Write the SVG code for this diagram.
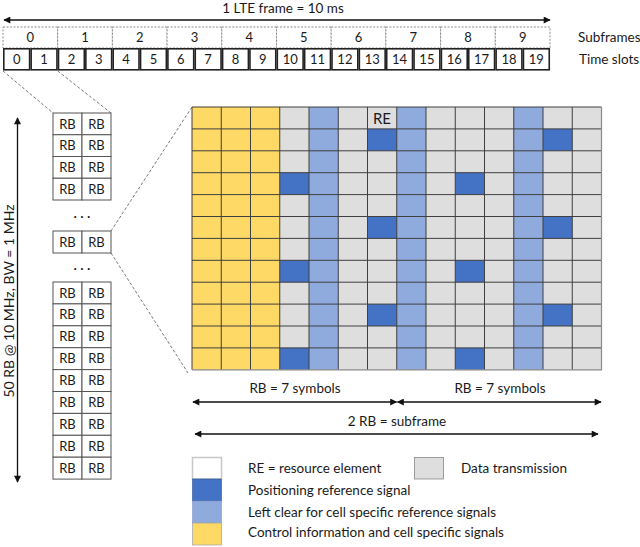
<svg xmlns="http://www.w3.org/2000/svg" width="640" height="547" viewBox="0 0 640 547">
<style>
text{font-family:Lato,"Liberation Sans",sans-serif;fill:#1a1a1a;}
.n{font-size:13px;text-anchor:middle;}
.lbl{font-size:13.5px;}
.c{text-anchor:middle;}
.sf{fill:#fff;stroke:#8a8a8a;stroke-width:1;stroke-dasharray:2 1.5;}
.sl{fill:#fff;stroke:#222;stroke-width:1.6;}
.rb{fill:#fff;stroke:#555;stroke-width:1;}
.dash{fill:none;stroke:#555;stroke-width:0.8;stroke-dasharray:3 2;}
.arr{fill:none;stroke:#111;stroke-width:1.3;marker-start:url(#ah);marker-end:url(#ah);}
.y{fill:#FFD966;}
.g{fill:#DEDEDE;}
.lb{fill:#8FAADC;}
.db{fill:#4472C4;}
.grid{fill:none;stroke:#3f3f3f;stroke-width:1;}
</style>
<defs>
<marker id="ah" viewBox="0 0 10 10" refX="9" refY="5" markerWidth="8" markerHeight="7" markerUnits="userSpaceOnUse" orient="auto-start-reverse"><path d="M0,0 L10,5 L0,10 z" fill="#111"/></marker>
</defs>

<g id="frame">
<text class="lbl c" x="283" y="13">1 LTE frame = 10 ms</text>
<g id="subframes">
<rect class="sf" x="3" y="27" width="54.7" height="21"/>
<rect class="sf" x="57.7" y="27" width="54.7" height="21"/>
<rect class="sf" x="112.4" y="27" width="54.7" height="21"/>
<rect class="sf" x="167.1" y="27" width="54.7" height="21"/>
<rect class="sf" x="221.8" y="27" width="54.7" height="21"/>
<rect class="sf" x="276.5" y="27" width="54.7" height="21"/>
<rect class="sf" x="331.2" y="27" width="54.7" height="21"/>
<rect class="sf" x="385.9" y="27" width="54.7" height="21"/>
<rect class="sf" x="440.6" y="27" width="54.7" height="21"/>
<rect class="sf" x="495.3" y="27" width="54.7" height="21"/>
<text class="n" x="30.35" y="42">0</text>
<text class="n" x="85.05" y="42">1</text>
<text class="n" x="139.75" y="42">2</text>
<text class="n" x="194.45" y="42">3</text>
<text class="n" x="249.15" y="42">4</text>
<text class="n" x="303.85" y="42">5</text>
<text class="n" x="358.55" y="42">6</text>
<text class="n" x="413.25" y="42">7</text>
<text class="n" x="467.95" y="42">8</text>
<text class="n" x="522.65" y="42">9</text>
</g>
<g id="slots">
<rect class="sl" x="3.8" y="48.8" width="25.8" height="21"/>
<rect class="sl" x="31.15" y="48.8" width="25.8" height="21"/>
<rect class="sl" x="58.5" y="48.8" width="25.8" height="21"/>
<rect class="sl" x="85.85" y="48.8" width="25.8" height="21"/>
<rect class="sl" x="113.2" y="48.8" width="25.8" height="21"/>
<rect class="sl" x="140.55" y="48.8" width="25.8" height="21"/>
<rect class="sl" x="167.9" y="48.8" width="25.8" height="21"/>
<rect class="sl" x="195.25" y="48.8" width="25.8" height="21"/>
<rect class="sl" x="222.6" y="48.8" width="25.8" height="21"/>
<rect class="sl" x="249.95" y="48.8" width="25.8" height="21"/>
<rect class="sl" x="277.3" y="48.8" width="25.8" height="21"/>
<rect class="sl" x="304.65" y="48.8" width="25.8" height="21"/>
<rect class="sl" x="332" y="48.8" width="25.8" height="21"/>
<rect class="sl" x="359.35" y="48.8" width="25.8" height="21"/>
<rect class="sl" x="386.7" y="48.8" width="25.8" height="21"/>
<rect class="sl" x="414.05" y="48.8" width="25.8" height="21"/>
<rect class="sl" x="441.4" y="48.8" width="25.8" height="21"/>
<rect class="sl" x="468.75" y="48.8" width="25.8" height="21"/>
<rect class="sl" x="496.1" y="48.8" width="25.8" height="21"/>
<rect class="sl" x="523.45" y="48.8" width="25.8" height="21"/>
<text class="n" x="16.7" y="64">0</text>
<text class="n" x="44" y="64">1</text>
<text class="n" x="71.4" y="64">2</text>
<text class="n" x="98.7" y="64">3</text>
<text class="n" x="126.1" y="64">4</text>
<text class="n" x="153.4" y="64">5</text>
<text class="n" x="180.8" y="64">6</text>
<text class="n" x="208.1" y="64">7</text>
<text class="n" x="235.5" y="64">8</text>
<text class="n" x="262.8" y="64">9</text>
<text class="n" x="290.2" y="64">10</text>
<text class="n" x="317.5" y="64">11</text>
<text class="n" x="344.9" y="64">12</text>
<text class="n" x="372.2" y="64">13</text>
<text class="n" x="399.6" y="64">14</text>
<text class="n" x="426.9" y="64">15</text>
<text class="n" x="454.3" y="64">16</text>
<text class="n" x="481.6" y="64">17</text>
<text class="n" x="509" y="64">18</text>
<text class="n" x="536.3" y="64">19</text>
</g>
<text class="lbl" x="578" y="42">Subframes</text>
<text class="lbl" x="579" y="64">Time slots</text>
</g>

<g id="rb-column">
<rect class="rb" x="53" y="113" width="29" height="21.75"/><rect class="rb" x="82" y="113" width="29" height="21.75"/>
<rect class="rb" x="53" y="134.75" width="29" height="21.75"/><rect class="rb" x="82" y="134.75" width="29" height="21.75"/>
<rect class="rb" x="53" y="156.5" width="29" height="21.75"/><rect class="rb" x="82" y="156.5" width="29" height="21.75"/>
<rect class="rb" x="53" y="178.25" width="29" height="21.75"/><rect class="rb" x="82" y="178.25" width="29" height="21.75"/>
<text class="n" x="67.5" y="128.5">RB</text><text class="n" x="96.5" y="128.5">RB</text>
<text class="n" x="67.5" y="150.3">RB</text><text class="n" x="96.5" y="150.3">RB</text>
<text class="n" x="67.5" y="172">RB</text><text class="n" x="96.5" y="172">RB</text>
<text class="n" x="67.5" y="193.8">RB</text><text class="n" x="96.5" y="193.8">RB</text>
<text class="n" x="82" y="221">· · ·</text>
<rect class="rb" x="53" y="231" width="29" height="22"/><rect class="rb" x="82" y="231" width="29" height="22"/>
<text class="n" x="67.5" y="246.7">RB</text><text class="n" x="96.5" y="246.7">RB</text>
<text class="n" x="82" y="273">· · ·</text>
<rect class="rb" x="53" y="282" width="29" height="21.9"/><rect class="rb" x="82" y="282" width="29" height="21.9"/>
<rect class="rb" x="53" y="303.9" width="29" height="21.9"/><rect class="rb" x="82" y="303.9" width="29" height="21.9"/>
<rect class="rb" x="53" y="325.8" width="29" height="21.9"/><rect class="rb" x="82" y="325.8" width="29" height="21.9"/>
<rect class="rb" x="53" y="347.7" width="29" height="21.9"/><rect class="rb" x="82" y="347.7" width="29" height="21.9"/>
<rect class="rb" x="53" y="369.6" width="29" height="21.9"/><rect class="rb" x="82" y="369.6" width="29" height="21.9"/>
<rect class="rb" x="53" y="391.5" width="29" height="21.9"/><rect class="rb" x="82" y="391.5" width="29" height="21.9"/>
<rect class="rb" x="53" y="413.4" width="29" height="21.9"/><rect class="rb" x="82" y="413.4" width="29" height="21.9"/>
<rect class="rb" x="53" y="435.3" width="29" height="21.9"/><rect class="rb" x="82" y="435.3" width="29" height="21.9"/>
<rect class="rb" x="53" y="457.2" width="29" height="21.9"/><rect class="rb" x="82" y="457.2" width="29" height="21.9"/>
<text class="n" x="67.5" y="297.5">RB</text><text class="n" x="96.5" y="297.5">RB</text>
<text class="n" x="67.5" y="319.4">RB</text><text class="n" x="96.5" y="319.4">RB</text>
<text class="n" x="67.5" y="341.3">RB</text><text class="n" x="96.5" y="341.3">RB</text>
<text class="n" x="67.5" y="363.2">RB</text><text class="n" x="96.5" y="363.2">RB</text>
<text class="n" x="67.5" y="385.1">RB</text><text class="n" x="96.5" y="385.1">RB</text>
<text class="n" x="67.5" y="407">RB</text><text class="n" x="96.5" y="407">RB</text>
<text class="n" x="67.5" y="428.9">RB</text><text class="n" x="96.5" y="428.9">RB</text>
<text class="n" x="67.5" y="450.8">RB</text><text class="n" x="96.5" y="450.8">RB</text>
<text class="n" x="67.5" y="472.7">RB</text><text class="n" x="96.5" y="472.7">RB</text>
</g>

<g id="bandwidth">
<text class="lbl c" transform="translate(14.2,301) rotate(-90)" style="font-size:14px">50 RB @ 10 MHz, BW = 1 MHz</text>
</g>

<g id="re-grid">
<rect class="g" x="192" y="107" width="409.5" height="262.8"/>
<rect class="y" x="192" y="107" width="87.75" height="262.8"/>
<rect class="lb" x="309" y="107" width="29.25" height="262.8"/>
<rect class="lb" x="396.75" y="107" width="29.25" height="262.8"/>
<rect class="lb" x="513.75" y="107" width="29.25" height="262.8"/>
<rect class="db" x="367.5" y="128.9" width="29.25" height="21.9"/>
<rect class="db" x="543" y="128.9" width="29.25" height="21.9"/>
<rect class="db" x="367.5" y="216.5" width="29.25" height="21.9"/>
<rect class="db" x="543" y="216.5" width="29.25" height="21.9"/>
<rect class="db" x="367.5" y="304.1" width="29.25" height="21.9"/>
<rect class="db" x="543" y="304.1" width="29.25" height="21.9"/>
<rect class="db" x="279.75" y="172.7" width="29.25" height="21.9"/>
<rect class="db" x="455.25" y="172.7" width="29.25" height="21.9"/>
<rect class="db" x="279.75" y="260.3" width="29.25" height="21.9"/>
<rect class="db" x="455.25" y="260.3" width="29.25" height="21.9"/>
<rect class="db" x="279.75" y="347.9" width="29.25" height="21.9"/>
<rect class="db" x="455.25" y="347.9" width="29.25" height="21.9"/>
<path class="grid" d="M192,107V369.8M221.25,107V369.8M250.5,107V369.8M279.75,107V369.8M309,107V369.8M338.25,107V369.8M367.5,107V369.8M396.75,107V369.8M426,107V369.8M455.25,107V369.8M484.5,107V369.8M513.75,107V369.8M543,107V369.8M572.25,107V369.8M192,107H601.5M192,128.9H601.5M192,150.8H601.5M192,172.7H601.5M192,194.6H601.5M192,216.5H601.5M192,238.4H601.5M192,260.3H601.5M192,282.2H601.5M192,304.1H601.5M192,326H601.5M192,347.9H601.5"/>
<path d="M601.5,107V369.8H192" fill="none" stroke="#8a8a8a" stroke-width="1.2"/>
<text class="c" x="382" y="124" style="font-size:15px">RE</text>
</g>

<g id="connectors">
<path class="dash" d="M3,71L53,113M57.7,71L111,113"/>
<path class="dash" d="M111,231L192,107M111,253L188,373"/>
<path class="arr" d="M4,20H550"/>
<path class="arr" d="M17.5,118V482"/>
<path class="arr" d="M193,402H396.5"/>
<path class="arr" d="M397.5,402H601"/>
<path class="arr" d="M195,434H598"/>
</g>

<g id="dims">
<text class="lbl c" x="295" y="393">RB = 7 symbols</text>
<text class="lbl c" x="500" y="393">RB = 7 symbols</text>
<text class="lbl c" x="397" y="426">2 RB = subframe</text>
</g>

<g id="legend">
<rect x="192.5" y="457.5" width="29" height="21.5" fill="#fff" stroke="#c8c8c8" stroke-width="1.5"/>
<rect x="192.5" y="479" width="29" height="22" class="db" stroke="#2f528f" stroke-width="0.6"/>
<rect x="192.5" y="501" width="29" height="22" class="lb" stroke="#7f97c6" stroke-width="0.6"/>
<rect x="192.5" y="523" width="29" height="22" class="y" stroke="#aaa" stroke-width="0.8"/>
<rect x="414.5" y="457.5" width="29" height="21.5" class="g" stroke="#888" stroke-width="0.8"/>
<text class="lbl" x="248" y="473">RE = resource element</text>
<text class="lbl" x="461" y="473">Data transmission</text>
<text class="lbl" x="248" y="495">Positioning reference signal</text>
<text class="lbl" x="248" y="517">Left clear for cell specific reference signals</text>
<text class="lbl" x="248" y="537">Control information and cell specific signals</text>
</g>
</svg>
